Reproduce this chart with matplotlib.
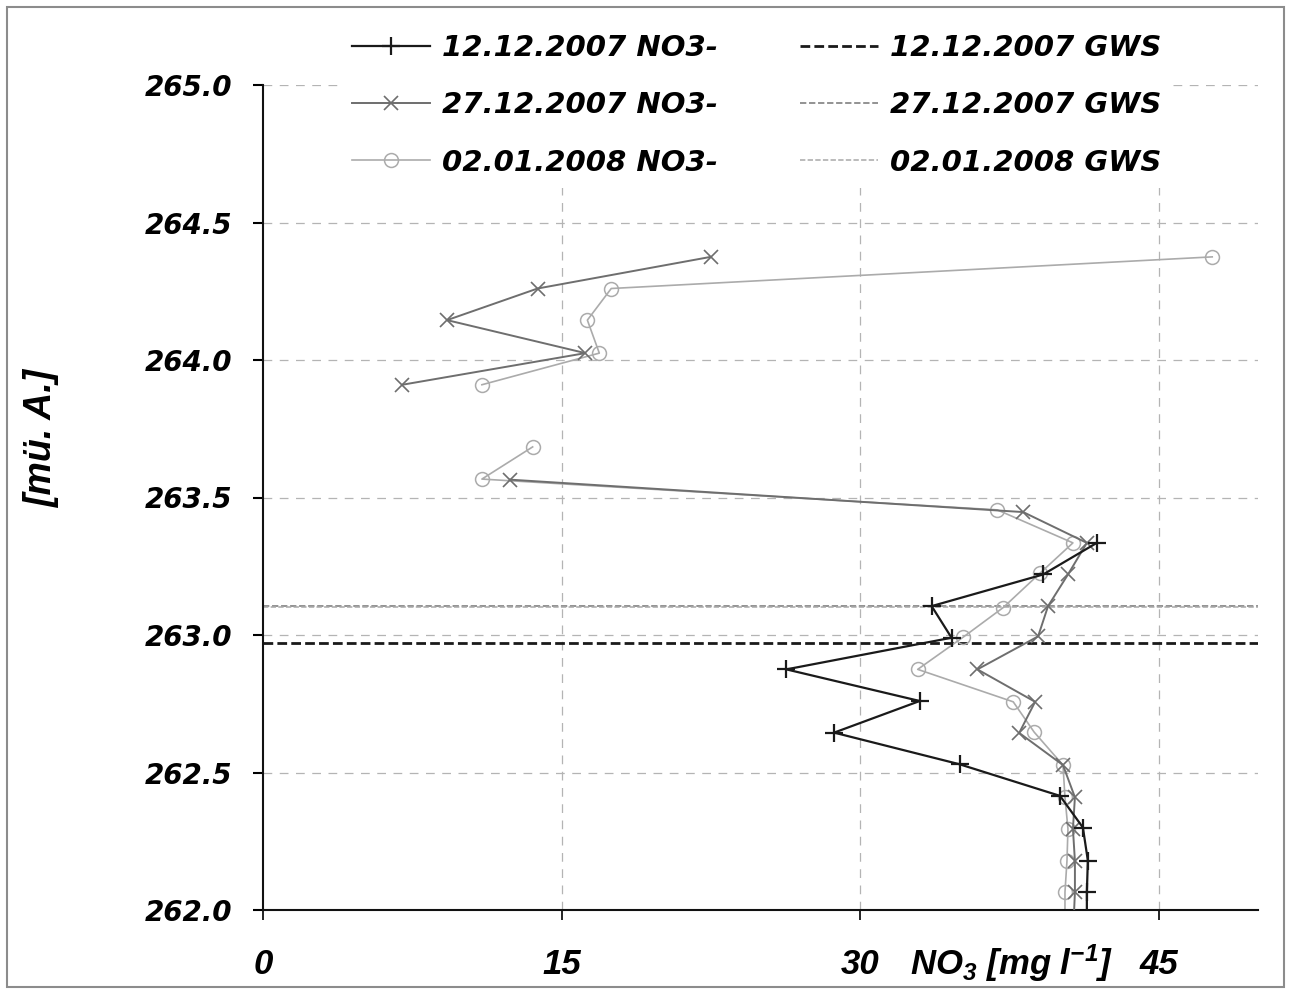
import matplotlib
matplotlib.use("Agg")
import matplotlib.pyplot as plt
from matplotlib.lines import Line2D
from matplotlib.patches import Rectangle

NAN = float('nan')

plt.rcParams['font.family'] = ['DejaVu Sans']
plt.rcParams['font.weight'] = 'bold'
plt.rcParams['font.style'] = 'italic'
plt.rcParams['mathtext.fontset'] = 'custom'
plt.rcParams['mathtext.rm'] = 'Liberation Sans:italic:bold'
plt.rcParams['mathtext.it'] = 'Liberation Sans:italic:bold'
plt.rcParams['mathtext.bf'] = 'Liberation Sans:italic:bold'

# ---- data ----
y_1212 = [263.335, 263.22, 263.105, 262.99, 262.875, 262.76, 262.645, 262.53,
          262.415, 262.30, 262.18, 262.065, 261.90]
x_1212 = [41.9, 39.2, 33.6, 34.6, 26.3, 33.0, 28.7, 35.0,
          40.05, 41.2, 41.45, 41.4, 41.4]

y_2712 = [264.375, 264.26, 264.145, 264.025, 263.91, NAN, 263.565, 263.447, 263.335,
          263.22, 263.105, 262.995, 262.875, 262.757, 262.644, 262.527,
          262.41, 262.295, 262.178, 262.065, 261.90]
x_2712 = [22.5, 13.8, 9.25, 16.2, 7.0, NAN, 12.4, 38.2, 41.4,
          40.45, 39.45, 38.95, 35.9, 38.8, 38.0, 40.2,
          40.8, 40.7, 40.8, 40.8, 40.7]

y_0201 = [264.375, 264.26, 264.145, 264.025, 263.91, NAN, 263.684, 263.567, 263.455,
          263.335, 263.225, 263.10, 262.993, 262.875, 262.757, 262.647, 262.527,
          262.41, 262.295, 262.178, 262.065, 261.90]
x_0201 = [47.7, 17.5, 16.3, 16.9, 11.0, NAN, 13.55, 11.0, 36.9,
          40.7, 39.05, 37.2, 35.2, 32.9, 37.7, 38.75, 40.2,
          40.3, 40.45, 40.4, 40.3, 40.3]

gws_levels = {'12.12.2007 GWS': 262.971, '27.12.2007 GWS': 263.105, '02.01.2008 GWS': 263.103}

x_ticks = [0, 15, 30, 45]
y_ticks = [262.0, 262.5, 263.0, 263.5, 264.0, 264.5, 265.0]

# ---- figure ----
W, H = 1291, 994
fig = plt.figure(figsize=(W / 100, H / 100), dpi=100)
ax = fig.add_axes([263 / W, 1 - 910 / H, (1258 - 263) / W, (910 - 85) / H])

ax.set_xlim(0, 50)
ax.set_ylim(262.0, 265.0)

grid_kw = dict(color='#b4b4b4', lw=0.9, dashes=(7, 6), zorder=0)
for xv in x_ticks[1:]:
    ax.axvline(xv, **grid_kw)
for yv in y_ticks[1:]:
    ax.axhline(yv, **grid_kw)

gws_styles = {
    '12.12.2007 GWS': dict(color='#1a1a1a', lw=2.0, dashes=(3.5, 1.5)),
    '27.12.2007 GWS': dict(color='#8a8a8a', lw=1.3, dashes=(3.5, 1.5)),
    '02.01.2008 GWS': dict(color='#a8a8a8', lw=1.1, dashes=(3.5, 1.5)),
}
for name, lvl in gws_levels.items():
    ax.axhline(lvl, zorder=1, **gws_styles[name])

s1, = ax.plot(x_1212, y_1212, color='#1a1a1a', lw=1.6, marker='+', ms=13, mew=1.6,
              label='12.12.2007 NO3-', zorder=4)
s2, = ax.plot(x_2712, y_2712, color='#6e6e6e', lw=1.4, marker='x', ms=10, mew=1.2,
              label='27.12.2007 NO3-', zorder=3)
s3, = ax.plot(x_0201, y_0201, color='#ababab', lw=1.2, marker='o', ms=10, mew=1.1,
              mfc='none', label='02.01.2008 NO3-', zorder=2)

for sp in ['top', 'right']:
    ax.spines[sp].set_visible(False)
for sp in ['left', 'bottom']:
    ax.spines[sp].set_linewidth(1.5)
    ax.spines[sp].set_color('#111111')

ax.set_xticks(x_ticks)
ax.set_xticklabels([str(v) for v in x_ticks])
ax.set_yticks(y_ticks)
ax.set_yticklabels([f"{v:.1f}" for v in y_ticks])
ax.tick_params(axis='y', direction='out', length=7, width=1.5, pad=15, labelsize=20)
ax.tick_params(axis='x', direction='out', length=7, width=1.2, pad=20, labelsize=25)
for lab in ax.get_yticklabels():
    lab.set_fontweight('bold')
    lab.set_fontstyle('italic')
for lab in ax.get_xticklabels():
    lab.set_fontweight('bold')
    lab.set_fontstyle('italic')
    lab.set_family('Liberation Sans')

fig.text(42 / W, 1 - 438 / H, '[mü. A.]', rotation=90, ha='center', va='center',
         fontsize=27, fontweight='bold', fontstyle='italic', family='Liberation Sans')
fig.text(1012 / W, 1 - 963 / H, r'NO$_{3}$ [mg l$^{-1}$]', ha='center', va='center',
         fontsize=25, fontweight='bold', fontstyle='italic', family='Liberation Sans')

# legend
handles = [s1, s2, s3]
for name in gws_levels:
    handles.append(Line2D([], [], **gws_styles[name]))
labels = ['12.12.2007 NO3-', '27.12.2007 NO3-', '02.01.2008 NO3-'] + list(gws_levels.keys())
leg = fig.legend(handles, labels, ncol=2, loc='upper left',
                 bbox_to_anchor=(326 / W, 1 - 8 / H), frameon=True,
                 facecolor='white', edgecolor='none', framealpha=1,
                 fontsize=21, handlelength=2.67, handletextpad=0.42,
                 columnspacing=2.8, labelspacing=1.0, borderpad=0.4)
for t in leg.get_texts():
    t.set_fontweight('bold')
    t.set_fontstyle('italic')

fig.patches.append(Rectangle((7 / W, 7 / H), 1 - 14 / W, 1 - 14 / H,
                             transform=fig.transFigure, fill=False,
                             edgecolor='#8c8c8c', lw=1.5))

fig.savefig('out.png', dpi=100)
